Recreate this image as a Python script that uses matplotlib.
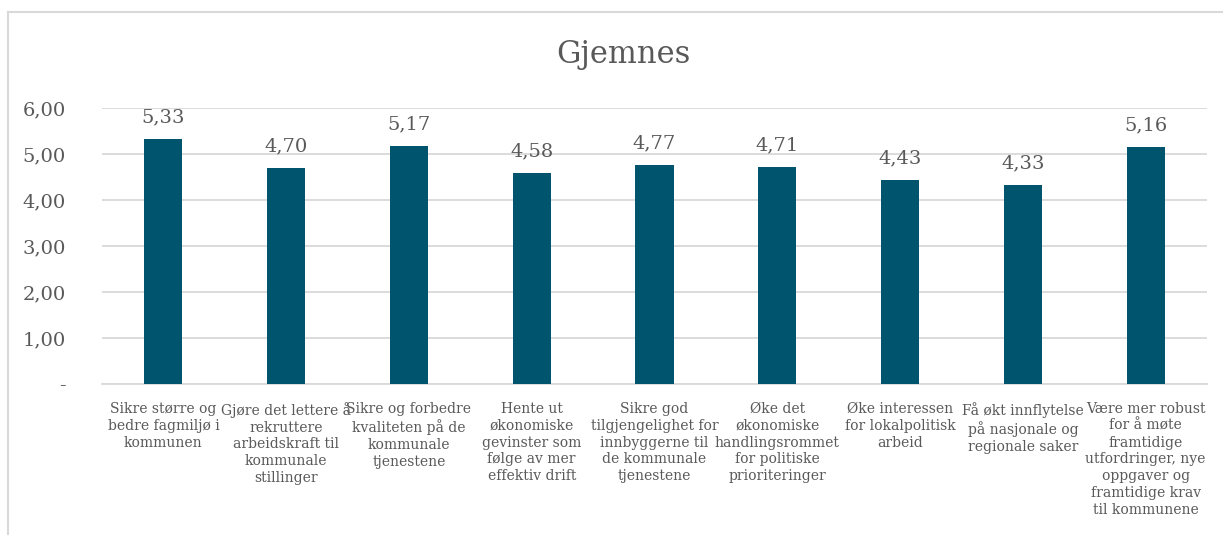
import numpy as np
import matplotlib.pyplot as plt

title = "Gjemnes"

categories = [
    "Sikre større og\nbedre fagmiljø i\nkommunen",
    "Gjøre det lettere å\nrekruttere\narbeidskraft til\nkommunale\nstillinger",
    "Sikre og forbedre\nkvaliteten på de\nkommunale\ntjenestene",
    "Hente ut\nøkonomiske\ngevinster som\nfølge av mer\neffektiv drift",
    "Sikre god\ntilgjengelighet for\ninnbyggerne til\nde kommunale\ntjenestene",
    "Øke det\nøkonomiske\nhandlingsrommet\nfor politiske\nprioriteringer",
    "Øke interessen\nfor lokalpolitisk\narbeid",
    "Få økt innflytelse\npå nasjonale og\nregionale saker",
    "Være mer robust\nfor å møte\nframtidige\nutfordringer, nye\noppgaver og\nframtidige krav\ntil kommunene",
]
values = [5.33, 4.70, 5.17, 4.58, 4.77, 4.71, 4.43, 4.33, 5.16]
yticks = [0, 1, 2, 3, 4, 5, 6]

bar_color = "#00546E"
text_color = "#595959"
grid_color = "#D9D9D9"

plt.rcParams['font.family'] = ['DejaVu Serif']

fig = plt.figure(figsize=(12.23, 5.35), dpi=100)
ax = fig.add_axes([102 / 1223, 1 - 384 / 535, 1105 / 1223, 276 / 535])

x = np.arange(len(values))
ax.bar(x, values, width=0.31, color=bar_color, zorder=3)

for xi, v in zip(x, values):
    ax.annotate(f"{v:.2f}".replace(".", ","), (xi, v), xytext=(0, 9),
                textcoords="offset points", ha="center", va="bottom",
                fontsize=14, color=text_color)

ax.set_xlim(-0.5, len(values) - 0.5)
ax.set_ylim(0, 6)
ax.set_yticks(yticks)
ax.set_yticklabels(["-" if t == 0 else f"{t},00" for t in yticks],
                   fontsize=14, color=text_color)
ax.set_xticks(x)
ax.set_xticklabels(categories, fontsize=10, color=text_color,
                   va="top", linespacing=1.25)
ax.tick_params(axis="both", length=0)
ax.tick_params(axis="y", pad=26)
ax.tick_params(axis="x", pad=13)
ax.yaxis.grid(True, color=grid_color, linewidth=1.3, zorder=0)
for s in ["top", "right", "left"]:
    ax.spines[s].set_visible(False)
ax.spines["bottom"].set_color(grid_color)
ax.spines["bottom"].set_linewidth(1.3)

fig.text(623 / 1223, 1 - 55 / 535, title, ha="center", va="center",
         fontsize=22, color=text_color)

# chart frame (only top and left edges visible in the crop)
fig.add_artist(plt.Line2D([8 / 1223, 1], [1 - 12 / 535] * 2, color=grid_color, lw=1.5))
fig.add_artist(plt.Line2D([8 / 1223] * 2, [0, 1 - 12 / 535], color=grid_color, lw=1.5))

fig.savefig("out.png", dpi=100)
